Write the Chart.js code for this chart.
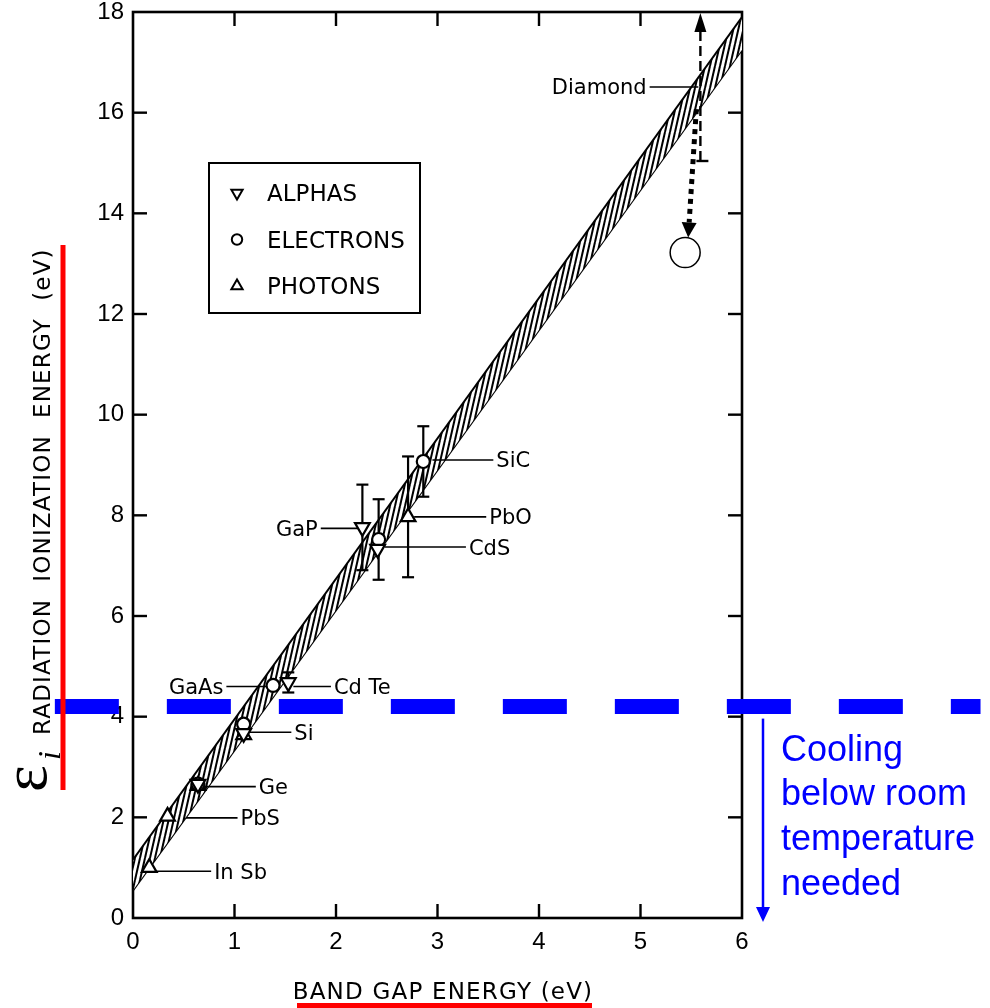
<!DOCTYPE html>
<html>
<head>
<meta charset="utf-8">
<script src="https://cdn.jsdelivr.net/npm/chart.js@4.4.1/dist/chart.umd.min.js"></script>
<style>
  html, body { margin: 0; padding: 0; background: #fff; }
</style>
</head>
<body>
<canvas id="chart" width="990" height="1008"></canvas>
<script>
// band gap vs radiation ionization energy (Klein plot)
const xTicks = [0, 1, 2, 3, 4, 5, 6];
const yTicks = [0, 2, 4, 6, 8, 10, 12, 14, 16, 18];

// hatched band
const bandX = [0, 6];
const bandUpper = [1.16, 17.9];
const bandLower = [0.55, 17.25];

// alphas (down triangles)
const alphaNames = ['Ge', 'Si', 'Cd Te', 'GaP', 'CdS'];
const alphaX = [0.64, 1.09, 1.53, 2.26, 2.41];
const alphaY = [2.66, 3.67, 4.68, 7.76, 7.33];
const alphaErr = [0, 0, 0.2, 0.85, 0];

// electrons (circles)
const electronNames = ['Ge', 'Si', 'GaAs', 'CdS', 'SiC'];
const electronX = [0.64, 1.09, 1.38, 2.42, 2.86];
const electronY = [2.66, 3.85, 4.62, 7.52, 9.07];
const electronErr = [0, 0, 0, 0.8, 0.7];

// photons (up triangles)
const photonNames = ['In Sb', 'PbS', 'Ge', 'Si', 'PbO'];
const photonX = [0.16, 0.34, 0.64, 1.09, 2.71];
const photonY = [1.0, 2.02, 2.63, 3.64, 7.97];
const photonErr = [0, 0, 0, 0, 1.2];

// diamond: lower limit + arrow up, and the measured value (big circle)
const diamondX = [5.59];
const diamondLow = [15.04];
const measuredX = [5.44];
const measuredY = [13.22];
const arrowFrom = [5.55, 16.07];
const arrowTo = [5.47, 13.52];

// room temperature limit
const coolingLimit = 4.2;
const coolingLineX = [-0.77, 8.35];

// label leaders: text, from x, to x, y, side of text
const leaders = [
  ['In Sb', 0.21, 0.77, 0.93, 'r'],
  ['PbS', 0.52, 1.03, 1.99, 'r'],
  ['Ge', 0.67, 1.21, 2.61, 'r'],
  ['Si', 1.14, 1.56, 3.69, 'r'],
  ['GaAs', 0.92, 1.36, 4.6, 'l'],
  ['Cd Te', 1.58, 1.95, 4.6, 'r'],
  ['GaP', 1.85, 2.23, 7.74, 'l'],
  ['CdS', 2.48, 3.28, 7.37, 'r'],
  ['PbO', 2.77, 3.48, 7.97, 'r'],
  ['SiC', 2.95, 3.55, 9.1, 'r'],
  ['Diamond', 5.09, 5.57, 16.51, 'l']
];

function toPts(xs, ys) { return xs.map((x, i) => ({ x: x, y: ys[i] })); }

function makeHatch() {
  const c = document.createElement('canvas');
  const w = 5, h = 22;
  c.width = w; c.height = h;
  const g = c.getContext('2d');
  g.fillStyle = '#fff';
  g.fillRect(0, 0, w, h);
  g.strokeStyle = '#000';
  g.lineWidth = 2;
  [-w, 0, w].forEach(dx => {
    g.beginPath(); g.moveTo(dx, h); g.lineTo(dx + w, 0); g.stroke();
  });
  return g.createPattern(c, 'repeat');
}

const LBL = '"DejaVu Sans", sans-serif';

function line(ctx, x1, y1, x2, y2) {
  ctx.beginPath(); ctx.moveTo(x1, y1); ctx.lineTo(x2, y2); ctx.stroke();
}

const decor = {
  id: 'decor',
  beforeDatasetsDraw(chart) {
    const ctx = chart.ctx, a = chart.chartArea;
    const xs = chart.scales.x, ys = chart.scales.y;
    ctx.save();
    ctx.strokeStyle = '#000';
    ctx.lineWidth = 2.6;
    ctx.strokeRect(a.left, a.top, a.right - a.left, a.bottom - a.top);
    ctx.lineWidth = 2.4;
    const tl = 14;
    xTicks.slice(1, -1).forEach(v => {
      const px = xs.getPixelForValue(v);
      line(ctx, px, a.bottom, px, a.bottom - tl);
      line(ctx, px, a.top, px, a.top + tl);
    });
    yTicks.slice(1, -1).forEach(v => {
      const py = ys.getPixelForValue(v);
      line(ctx, a.left, py, a.left + tl, py);
      line(ctx, a.right, py, a.right - tl, py);
    });

    // legend box
    const bx = a.left + 76, by = a.top + 151, bw = 211, bh = 150;
    ctx.lineWidth = 2;
    ctx.strokeRect(bx, by, bw, bh);
    const items = [['ALPHAS', 'triangle', 180, 6.5], ['ELECTRONS', 'circle', 0, 5.2], ['PHOTONS', 'triangle', 0, 6.5]];
    ctx.font = '23px ' + LBL;
    ctx.textBaseline = 'alphabetic';
    items.forEach((it, i) => {
      const cy = by + 30 + i * 46.5;
      ctx.fillStyle = '#fff';
      Chart.helpers.drawPoint(ctx, { pointStyle: it[1], rotation: it[2], radius: it[3], borderWidth: 2 }, bx + 28, cy);
      ctx.fillStyle = '#000';
      ctx.fillText(it[0], bx + 58, cy + 8);
    });
    ctx.restore();
  },
  afterDatasetDraw(chart, args) {
    if (args.index !== 5) return;
    const ctx = chart.ctx;
    const xs = chart.scales.x, ys = chart.scales.y;
    ctx.save();
    ctx.strokeStyle = '#000';
    ctx.fillStyle = '#000';
    ctx.lineWidth = 2.2;
    // error bars
    [[alphaX, alphaY, alphaErr], [electronX, electronY, electronErr], [photonX, photonY, photonErr]].forEach(s => {
      s[0].forEach((x, i) => {
        const e = s[2][i];
        if (!e) return;
        const px = xs.getPixelForValue(x);
        const p1 = ys.getPixelForValue(s[1][i] - e), p2 = ys.getPixelForValue(s[1][i] + e);
        line(ctx, px, p1, px, p2);
        line(ctx, px - 6, p1, px + 6, p1);
        line(ctx, px - 6, p2, px + 6, p2);
      });
    });
    // leaders and labels
    ctx.lineWidth = 1.6;
    ctx.font = '21px ' + LBL;
    ctx.textBaseline = 'alphabetic';
    leaders.forEach(l => {
      const x1 = xs.getPixelForValue(l[1]), x2 = xs.getPixelForValue(l[2]);
      const py = ys.getPixelForValue(l[3]);
      line(ctx, x1, py, x2, py);
      if (l[4] === 'r') {
        ctx.textAlign = 'left';
        ctx.fillText(l[0], x2 + 3, py + 7.5);
      } else {
        ctx.textAlign = 'right';
        ctx.fillText(l[0], x1 - 3, py + 7.5);
      }
    });

    // diamond: dashed line up to the top with arrow
    const dx = xs.getPixelForValue(diamondX[0]);
    const dLow = ys.getPixelForValue(diamondLow[0]);
    const dTop = ys.getPixelForValue(18);
    ctx.lineWidth = 2.4;
    ctx.setLineDash([10, 5]);
    line(ctx, dx, dLow, dx, dTop + 16);
    ctx.setLineDash([]);
    line(ctx, dx - 4, dLow, dx + 8, dLow);
    ctx.beginPath();
    ctx.moveTo(dx, dTop + 1); ctx.lineTo(dx - 6, dTop + 20); ctx.lineTo(dx + 6, dTop + 20); ctx.closePath();
    ctx.fill();

    // dotted arrow to measured value
    const ax1 = xs.getPixelForValue(arrowFrom[0]), ay1 = ys.getPixelForValue(arrowFrom[1]);
    const ax2 = xs.getPixelForValue(arrowTo[0]), ay2 = ys.getPixelForValue(arrowTo[1]);
    const ang = Math.atan2(ay2 - ay1, ax2 - ax1);
    const hl = 15;
    ctx.lineWidth = 5;
    ctx.setLineDash([5, 5]);
    line(ctx, ax1, ay1, ax2 - Math.cos(ang) * hl, ay2 - Math.sin(ang) * hl);
    ctx.setLineDash([]);
    ctx.beginPath();
    ctx.moveTo(ax2, ay2);
    ctx.lineTo(ax2 - Math.cos(ang) * hl + Math.sin(ang) * 7.5, ay2 - Math.sin(ang) * hl - Math.cos(ang) * 7.5);
    ctx.lineTo(ax2 - Math.cos(ang) * hl - Math.sin(ang) * 7.5, ay2 - Math.sin(ang) * hl + Math.cos(ang) * 7.5);
    ctx.closePath();
    ctx.fill();
    ctx.restore();
  },
  afterDraw(chart) {
    const ctx = chart.ctx, a = chart.chartArea;
    const ys = chart.scales.y;
    ctx.save();
    // y title
    ctx.fillStyle = '#000';
    ctx.translate(50, 735);
    ctx.rotate(-Math.PI / 2);
    ctx.textAlign = 'left';
    ctx.textBaseline = 'alphabetic';
    ctx.font = '23px ' + LBL;
    ctx.letterSpacing = '1.2px';
    ctx.fillText('RADIATION  IONIZATION  ENERGY  (eV)', 0, 0);
    ctx.letterSpacing = '0px';
    ctx.font = '64px "Liberation Serif", serif';
    ctx.fillText('\u03b5', -57, -4);
    ctx.font = 'italic 32px "Liberation Serif", serif';
    ctx.fillText('i', -25, 10);
    ctx.restore();

    ctx.save();
    // x title
    ctx.fillStyle = '#000';
    ctx.font = '23px ' + LBL;
    ctx.letterSpacing = '1.2px';
    ctx.textAlign = 'center';
    ctx.textBaseline = 'alphabetic';
    ctx.fillText('BAND GAP ENERGY (eV)', 443, 999);
    ctx.letterSpacing = '0px';

    // red underlines
    ctx.fillStyle = '#ff0000';
    ctx.fillRect(60.5, 245, 5, 545);
    ctx.fillRect(297, 1003, 295, 5);

    // cooling note
    const ly = ys.getPixelForValue(coolingLimit);
    const cx = a.right + 21;
    ctx.strokeStyle = '#0000ff';
    ctx.fillStyle = '#0000ff';
    ctx.lineWidth = 2.5;
    line(ctx, cx, ly + 12, cx, a.bottom - 8);
    ctx.beginPath();
    ctx.moveTo(cx, a.bottom + 4); ctx.lineTo(cx - 7, a.bottom - 11); ctx.lineTo(cx + 7, a.bottom - 11); ctx.closePath();
    ctx.fill();
    ctx.font = '36px "Liberation Sans", Arial, sans-serif';
    ctx.textAlign = 'left';
    ctx.textBaseline = 'middle';
    ['Cooling', 'below room', 'temperature', 'needed'].forEach((t, i) => {
      ctx.fillText(t, a.right + 39, ly + 44 + i * 44.7);
    });
    ctx.restore();
  }
};

const ctx = document.getElementById('chart');
new Chart(ctx, {
  type: 'scatter',
  data: {
    datasets: [
      {
        label: 'room temperature',
        data: coolingLineX.map(x => ({ x: x, y: coolingLimit })),
        showLine: true,
        borderColor: '#0000ff',
        borderWidth: 15,
        borderDash: [64, 48],
        borderCapStyle: 'butt',
        pointRadius: 0,
        clip: false
      },
      {
        label: 'ALPHAS',
        data: toPts(alphaX, alphaY),
        pointStyle: 'triangle',
        rotation: 180,
        pointRadius: 8.5,
        borderWidth: 2.2,
        borderColor: '#000',
        backgroundColor: '#fff'
      },
      {
        label: 'ELECTRONS',
        data: toPts(electronX, electronY),
        pointStyle: 'circle',
        pointRadius: 6.5,
        borderWidth: 2.2,
        borderColor: '#000',
        backgroundColor: '#fff'
      },
      {
        label: 'PHOTONS',
        data: toPts(photonX, photonY),
        pointStyle: 'triangle',
        pointRadius: 8.5,
        borderWidth: 2.2,
        borderColor: '#000',
        backgroundColor: '#fff'
      },
      {
        label: 'Diamond measured',
        data: toPts(measuredX, measuredY),
        pointStyle: 'circle',
        pointRadius: 15,
        borderWidth: 1.5,
        borderColor: '#000',
        backgroundColor: '#fff'
      },
      {
        label: 'band upper',
        data: toPts(bandX, bandUpper),
        showLine: true,
        borderColor: '#000',
        borderWidth: 2,
        pointRadius: 0,
        fill: '+1',
        backgroundColor: makeHatch()
      },
      {
        label: 'band lower',
        data: toPts(bandX, bandLower),
        showLine: true,
        borderColor: '#000',
        borderWidth: 2,
        pointRadius: 0,
        fill: false
      }
    ]
  },
  options: {
    responsive: false,
    devicePixelRatio: 1,
    animation: false,
    layout: { autoPadding: false, padding: { top: 12, right: 248, bottom: 0, left: 0 } },
    plugins: {
      legend: { display: false },
      tooltip: { enabled: false }
    },
    scales: {
      x: {
        type: 'linear',
        min: 0,
        max: 6,
        grid: { display: false, drawTicks: false },
        border: { display: false },
        ticks: {
          stepSize: 1,
          padding: 12,
          color: '#000',
          font: { family: '"Liberation Sans", Arial, sans-serif', size: 24, lineHeight: 1 }
        },
        afterFit: s => { s.height = 90; s.paddingLeft = 0; s.paddingRight = 0; }
      },
      y: {
        type: 'linear',
        min: 0,
        max: 18,
        grid: { display: false, drawTicks: false },
        border: { display: false },
        ticks: {
          stepSize: 2,
          padding: 9,
          color: '#000',
          font: { family: '"Liberation Sans", Arial, sans-serif', size: 24, lineHeight: 0.5 }
        },
        afterFit: s => { s.width = 133; s.paddingTop = 0; s.paddingBottom = 0; }
      }
    }
  },
  plugins: [decor]
});
</script>
</body>
</html>
